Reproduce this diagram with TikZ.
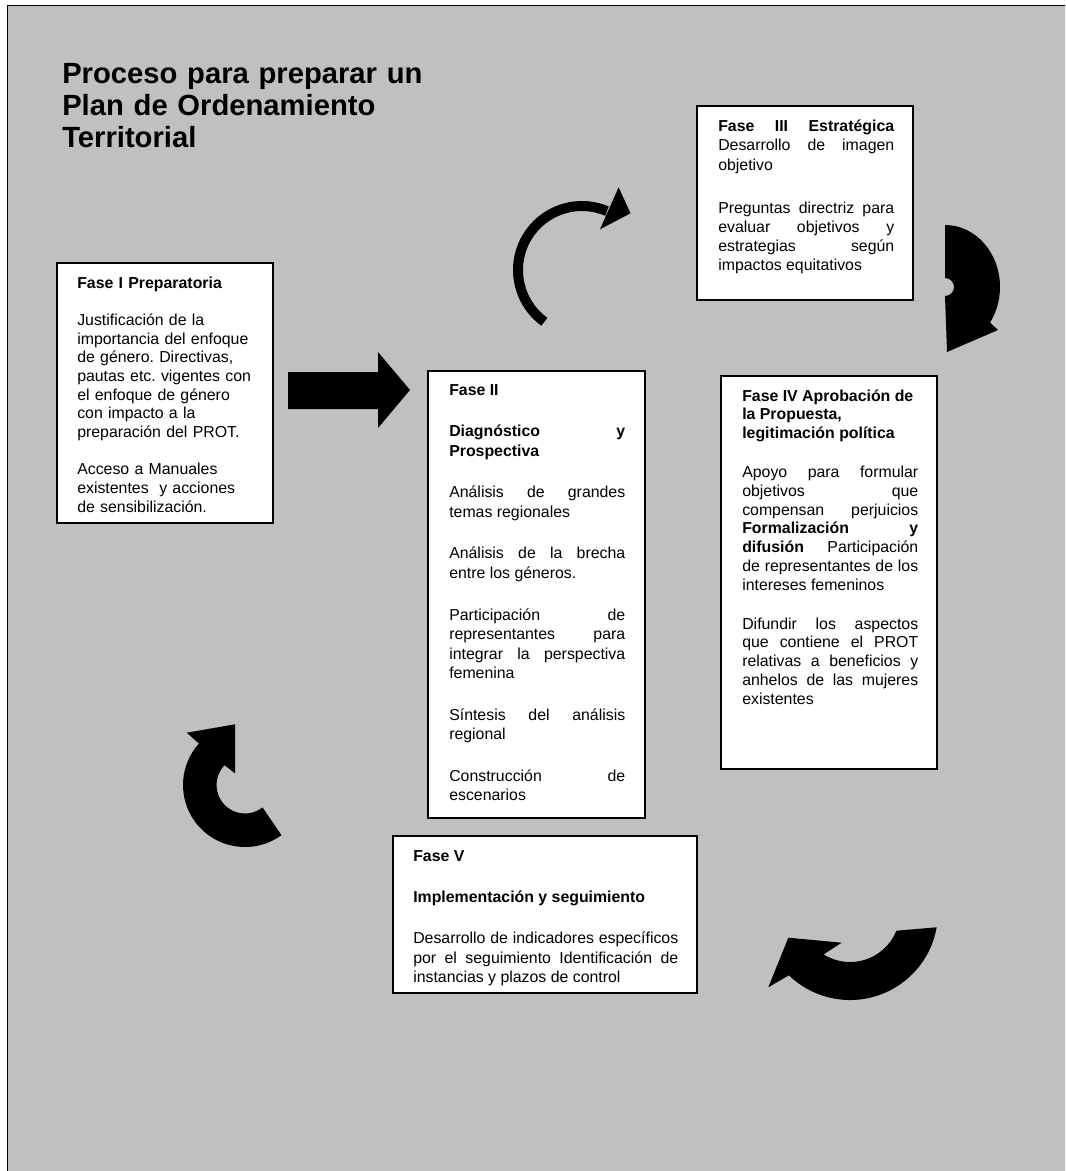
\documentclass[tikz,border=0pt]{standalone}
\usepackage{fontspec}
\setmainfont{Liberation Sans}
\usetikzlibrary{calc,fit,positioning}

\definecolor{panelgray}{HTML}{C0C0C0}
\newlength{\phskip}
\newcommand{\phgap}{\par\vspace{\phskip}}
\frenchspacing

\tikzset{
  phasebox/.style={draw=black,line width=1.5pt,fill=white,inner sep=0pt},
  phasetext/.style n args={3}{anchor=base west,inner sep=0pt,align=justify,text width=#1,
    font={\fontsize{11.9}{#2}\selectfont\frenchspacing\setlength{\phskip}{#3}\tolerance=10000\hbadness=10000}},
  titletext/.style={anchor=base west,inner sep=0pt,align=left,text width=330pt,
    font=\bfseries\fontsize{21.9}{24}\selectfont},
  blockarrow/.style={fill=black},
}

\begin{document}
\begin{tikzpicture}[x=0.75pt,y=-0.75pt]
\useasboundingbox (0,0) rectangle (1065,1171);
\clip (0,0) rectangle (1065,1171);
\fill[white] (0,0) rectangle (1065,1171);

% Panel
\fill[panelgray] (7.5,5.5) rectangle (1080,1190);
\draw[line width=1.1pt] (7.5,1190) -- (7.5,5.5) -- (1080,5.5);

% Title
\node[titletext] (title) at (62,83) {Proceso para preparar un\\ Plan de Ordenamiento\\ Territorial};

% Phase boxes
\node[phasebox,fit={(57,263) (273,523)}] (faseI) {};
\node[phasebox,fit={(428,371) (645,818)}] (faseII) {};
\node[phasebox,fit={(697,106) (913,300)}] (faseIII) {};
\node[phasebox,fit={(721,376) (937,769)}] (faseIV) {};
\node[phasebox,fit={(393,836) (697,993)}] (faseV) {};

% Phase texts
\node[phasetext={132pt}{14pt}{14pt},align=left] (faseItext) at (77,288) {\textbf{Fase I Preparatoria}\phgap
Justificación de la\\ importancia del enfoque\\ de género. Directivas,\\ pautas etc. vigentes con\\ el enfoque de género\\ con impacto a la\\ preparación del PROT.\phgap
Acceso a Manuales\\ existentes\ \ y acciones\\ de sensibilización.};

\node[phasetext={132pt}{14.6pt}{16.65pt}] (faseIItext) at (449,395) {\textbf{Fase II}\phgap
\textbf{Diagnóstico y\linebreak Prospectiva}\phgap
Análisis de grandes\linebreak temas regionales\phgap
Análisis de la brecha\linebreak entre los géneros.\phgap
Participación de\linebreak representantes para\linebreak integrar la perspectiva\linebreak femenina\phgap
Síntesis del análisis\linebreak regional\phgap
Construcción de\linebreak escenarios};

\node[phasetext={132pt}{14.4pt}{17.85pt}] (faseIIItext) at (718,131.7) {\textbf{Fase III Estratégica}\linebreak Desarrollo de imagen\linebreak objetivo\phgap
Preguntas directriz para\linebreak evaluar objetivos y\linebreak estrategias según\linebreak impactos equitativos};

\node[phasetext={132pt}{14.1pt}{15pt}] (faseIVtext) at (742,401) {\textbf{Fase IV Aprobación de\\ la Propuesta,\\ legitimación política}\phgap
Apoyo para formular\linebreak objetivos que\linebreak compensan perjuicios\linebreak \textbf{Formalización y\linebreak difusión} Participación\linebreak de representantes de los\linebreak intereses femeninos\phgap
Difundir los aspectos\linebreak que contiene el PROT\linebreak relativas a beneficios y\linebreak anhelos de las mujeres\linebreak existentes};

\node[phasetext={198.75pt}{14.6pt}{16.5pt}] (faseVtext) at (413,861) {\textbf{Fase V}\phgap
\textbf{Implementación y seguimiento}\phgap
Desarrollo de indicadores específicos\linebreak por el seguimiento Identificación de\linebreak instancias y plazos de control};

% Arrow from Fase I to Fase II
\fill[blockarrow] (288,372) -- (378,372) -- (378,352) -- (410,390) -- (378,428) -- (378,409) -- (288,409) -- cycle;

% Thin turning arrow towards Fase III
\coordinate (topturn) at (582,270);
\draw[line width=7.5pt] ($(topturn)+(126:64)$) arc[start angle=126,end angle=293,radius=64];
\fill[blockarrow] (618.6,187.3) -- (630.5,213.3) -- (600,229.3) -- cycle;

% Fat arrow from Fase III down to Fase IV
\fill[blockarrow] (945,225) arc[start angle=-90,end angle=35,x radius=55,y radius=62] -- (998,330) -- (947,352) -- (945,296) arc[start angle=90,end angle=-90,radius=9] -- cycle;

% Fat arrow towards Fase V
\coordinate (lowturn) at (850,912);
\fill[blockarrow] ($(lowturn)+(10:88)$) arc[start angle=10,end angle=134,radius=88] -- (768.3,987.3) -- (788.3,937.7) -- (841.7,942.7) -- ($(lowturn)+(122:50)$) arc[start angle=122,end angle=22,radius=50] -- cycle;

% Fat arrow back to Fase I
\coordinate (leftturn) at (245,785);
\fill[blockarrow] ($(leftturn)+(54:62)$) arc[start angle=54,end angle=222,radius=62] -- (186.7,732.7) -- (235,724.3) -- (235,773.3) -- ($(leftturn)+(224:28.5)$) arc[start angle=224,end angle=52,radius=28.5] -- cycle;

\end{tikzpicture}
\end{document}
